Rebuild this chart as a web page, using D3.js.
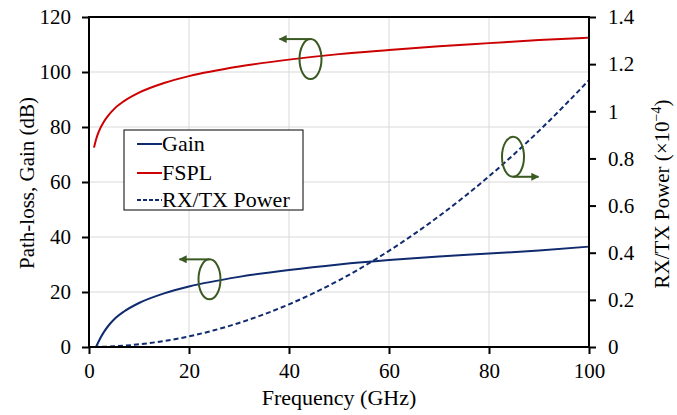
<!DOCTYPE html>
<html>
<head>
<meta charset="utf-8">
<script src="https://cdn.jsdelivr.net/npm/d3@7"></script>
<style>
  body { margin: 0; background: #fff; }
  svg text { font-family: "Liberation Serif", "Times New Roman", serif; fill: #000; }
</style>
</head>
<body>
<svg id="chart" width="677" height="415"></svg>
<script>
  // values
  var freqFspl = [1, 1.5, 2, 3, 4, 5, 7, 10, 15, 20, 30, 40, 50, 60, 70, 80, 90, 100];
  var fsplDb = [72.5, 76, 78.5, 82, 84.5, 86.5, 89.4, 92.5, 96, 98.5, 102, 104.5, 106.5, 108, 109.4, 110.5, 111.6, 112.5];
  var freqGain = [1.4, 2, 3, 4, 5, 7, 10, 15, 20, 30, 40, 50, 60, 70, 80, 90, 100];
  var gainDb = [0, 2.3, 5.5, 8, 10, 12.9, 16, 19.5, 22, 25.5, 28, 30, 31.6, 32.9, 34, 35.1, 36.5];
  var freqPower = [1, 5, 10, 15, 20, 25, 30, 40, 50, 60, 70, 80, 90, 100];
  var powerE4 = [0.0001, 0.0028, 0.0113, 0.0255, 0.045, 0.071, 0.102, 0.181, 0.283, 0.408, 0.555, 0.724, 0.917, 1.132];
  var xTicks = [0, 20, 40, 60, 80, 100];
  var leftTicks = [0, 20, 40, 60, 80, 100, 120];
  var rightTicks = [0, 0.2, 0.4, 0.6, 0.8, 1, 1.2, 1.4];
  var rightLabels = ['0', '0.2', '0.4', '0.6', '0.8', '1', '1.2', '1.4'];
  var legendNames = ['Gain', 'FSPL', 'RX/TX Power'];

  (function () {
    var navy = '#0f2a6e',
      red = '#cc0000',
      green = '#3b5a22',
      fs = 21,
      fsBig = 22;

    var svg = d3.select('#chart'),
      pl = 89, pr = 589, pt = 17, pb = 347;

    var x = d3.scaleLinear().domain([0, 100]).range([pl, pr]),
      yL = d3.scaleLinear().domain([0, 120]).range([pb, pt]),
      yR = d3.scaleLinear().domain([0, 1.4]).range([pb, pt]);

    // grid
    var grid = svg.append('g').attr('stroke', '#d9d9d9').attr('stroke-width', 1);
    grid.selectAll('line.v').data(xTicks.slice(1, -1)).enter().append('line')
      .attr('x1', function (d) { return x(d); }).attr('x2', function (d) { return x(d); })
      .attr('y1', pt).attr('y2', pb);
    grid.selectAll('line.h').data(leftTicks.slice(1, -1)).enter().append('line')
      .attr('x1', pl).attr('x2', pr)
      .attr('y1', function (d) { return yL(d); }).attr('y2', function (d) { return yL(d); });

    // axes
    function styleAxis(g) {
      g.select('.domain').remove();
      g.selectAll('.tick line').attr('stroke', '#000').attr('stroke-width', 2);
      g.selectAll('.tick text').attr('font-size', fs).attr('font-family', '"Liberation Serif", serif');
    }

    svg.append('g').attr('transform', 'translate(0,' + pb + ')')
      .call(d3.axisBottom(x).tickValues(xTicks).tickSize(7).tickPadding(9))
      .call(styleAxis);
    svg.append('g').attr('transform', 'translate(' + pl + ',0)')
      .call(d3.axisLeft(yL).tickValues(leftTicks).tickSize(7).tickPadding(11))
      .call(styleAxis);
    svg.append('g').attr('transform', 'translate(' + pr + ',0)')
      .call(d3.axisRight(yR).tickValues(rightTicks).tickSize(7).tickPadding(12)
        .tickFormat(function (d, i) { return rightLabels[i]; }))
      .call(styleAxis);

    // series
    function pts(xs, ys) {
      return xs.map(function (f, i) { return [f, ys[i]]; });
    }

    var lineL = d3.line().curve(d3.curveMonotoneX)
      .x(function (d) { return x(d[0]); }).y(function (d) { return yL(d[1]); });
    var lineR = d3.line().curve(d3.curveMonotoneX)
      .x(function (d) { return x(d[0]); }).y(function (d) { return yR(d[1]); });

    svg.append('path').datum(pts(freqGain, gainDb)).attr('d', lineL)
      .attr('fill', 'none').attr('stroke', navy).attr('stroke-width', 2);
    svg.append('path').datum(pts(freqFspl, fsplDb)).attr('d', lineL)
      .attr('fill', 'none').attr('stroke', red).attr('stroke-width', 2);
    svg.append('path').datum(pts(freqPower, powerE4)).attr('d', lineR)
      .attr('fill', 'none').attr('stroke', navy).attr('stroke-width', 2)
      .attr('stroke-dasharray', '5,3');

    svg.append('rect')
      .attr('x', pl).attr('y', pt)
      .attr('width', pr - pl).attr('height', pb - pt)
      .attr('fill', 'none').attr('stroke', '#000').attr('stroke-width', 2);

    // annotations: ellipse + arrow pointing at the axis a curve belongs to
    svg.append('defs').append('marker')
      .attr('id', 'head').attr('viewBox', '0 0 10 10')
      .attr('refX', 9).attr('refY', 5)
      .attr('markerWidth', 9).attr('markerHeight', 8)
      .attr('markerUnits', 'userSpaceOnUse')
      .attr('orient', 'auto')
      .append('path').attr('d', 'M0,0L10,5L0,10Z').attr('fill', green);

    var notes = [
      { f: 44.3, v: 104.7, scale: yL, up: true, to: 38.1 },
      { f: 84.8, v: 0.807, scale: yR, up: false, to: 89.9 },
      { f: 24.1, v: 24.6, scale: yL, up: true, to: 18.1 }
    ];

    notes.forEach(function (n) {
      var cx = x(n.f), cy = n.scale(n.v), ry = 20;
      svg.append('ellipse')
        .attr('cx', cx).attr('cy', cy).attr('rx', 11).attr('ry', ry)
        .attr('fill', 'none').attr('stroke', green).attr('stroke-width', 2);
      var ay = n.up ? cy - ry : cy + ry;
      svg.append('line')
        .attr('x1', cx).attr('y1', ay).attr('x2', x(n.to)).attr('y2', ay)
        .attr('stroke', green).attr('stroke-width', 2)
        .attr('marker-end', 'url(#head)');
    });

    // legend
    var leg = svg.append('g').attr('transform', 'translate(124,130)');
    leg.append('rect').attr('width', 179).attr('height', 80)
      .attr('fill', '#fff').attr('stroke', '#000').attr('stroke-width', 1);
    var rows = leg.selectAll('g.row').data(legendNames).enter().append('g')
      .attr('transform', function (d, i) { return 'translate(0,' + [14, 43, 70][i] + ')'; });
    rows.append('line').attr('x1', 13).attr('x2', 38).attr('y1', 0).attr('y2', 0)
      .attr('stroke', function (d, i) { return i === 1 ? red : navy; })
      .attr('stroke-width', 2)
      .attr('stroke-dasharray', function (d, i) { return i === 2 ? '4,2' : null; });
    rows.append('text').attr('x', 38).attr('y', 7).attr('font-size', fsBig)
      .text(function (d) { return d; });

    // titles
    svg.append('text').attr('x', (pl + pr) / 2).attr('y', 405)
      .attr('text-anchor', 'middle').attr('font-size', fsBig).text('Frequency (GHz)');
    svg.append('text')
      .attr('transform', 'translate(34,183) rotate(-90)')
      .attr('text-anchor', 'middle').attr('font-size', fs).text('Path-loss, Gain (dB)');
    var rt = svg.append('text')
      .attr('transform', 'translate(669,194) rotate(-90)')
      .attr('text-anchor', 'middle').attr('font-size', fs);
    rt.append('tspan').text('RX/TX Power (\u00d710');
    rt.append('tspan').attr('dy', -8).attr('font-size', 14).text('\u22124');
    rt.append('tspan').attr('dy', 8).text(')');
  })();
</script>
</body>
</html>
